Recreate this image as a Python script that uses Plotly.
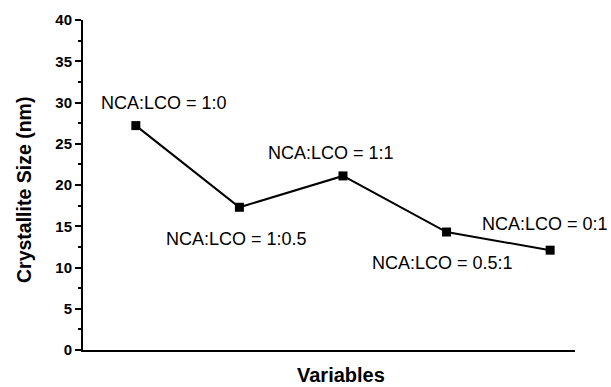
import plotly.graph_objects as go

positions = [1, 2, 3, 4, 5]
sizes = [27.2, 17.3, 21.1, 14.3, 12.1]
labels = ["NCA:LCO = 1:0", "NCA:LCO = 1:0.5", "NCA:LCO = 1:1", "NCA:LCO = 0.5:1", "NCA:LCO = 0:1"]
ytick_vals = [0, 5, 10, 15, 20, 25, 30, 35, 40]
ytick_text = ["0", "5", "10", "15", "20", "25", "30", "35", "40"]
yminor_vals = [2.5, 7.5, 12.5, 17.5, 22.5, 27.5, 32.5, 37.5]
# label offsets (in data units) relative to each point
label_dx = [0.27, -0.03, -0.12, -0.04, -0.05]
label_dy = [2.8, -3.8, 2.8, -3.7, 3.2]

fig = go.Figure()
fig.add_trace(go.Scatter(
    x=positions, y=sizes, mode="lines+markers",
    line=dict(color="black", width=2),
    marker=dict(symbol="square", size=9, color="black"),
    showlegend=False, cliponaxis=False,
))

for x, y, t, dx, dy in zip(positions, sizes, labels, label_dx, label_dy):
    fig.add_annotation(x=x + dx, y=y + dy, text=t, showarrow=False,
                       font=dict(family="Liberation Sans, Arial", size=18, color="black"))

fig.update_layout(
    width=611, height=387,
    margin=dict(l=83, r=36, t=20, b=37),
    plot_bgcolor="white", paper_bgcolor="white",
    font=dict(family="Liberation Sans, Arial", color="black"),
)
fig.update_xaxes(range=[0.49, 5.24], showticklabels=False, ticks="", showgrid=False,
                 zeroline=False, showline=True, linecolor="black", linewidth=2)
fig.update_yaxes(range=[0, 40], tickvals=ytick_vals,
                 ticktext=["<b>%s</b>" % t for t in ytick_text],
                 ticks="outside", ticklen=6, tickwidth=1.5, tickcolor="black",
                 minor=dict(tickvals=yminor_vals,
                            ticks="outside", ticklen=3, tickwidth=1.5, tickcolor="black"),
                 tickfont=dict(size=15, family="Liberation Sans, Arial"),
                 showgrid=False, zeroline=False, showline=True, linecolor="black", linewidth=2)

fig.add_annotation(xref="paper", yref="paper", x=0.5, y=0, xshift=12, yshift=-25,
                   text="<b>Variables</b>", showarrow=False, font=dict(size=20), yanchor="middle")
fig.add_annotation(xref="paper", yref="paper", x=0, y=0.5, xshift=-59, yshift=-5,
                   text="<b>Crystallite Size (nm)</b>", showarrow=False, font=dict(size=19.5),
                   textangle=-90, xanchor="center")

fig.write_html("out.html", config={"displayModeBar": False},
               post_script="document.body.style.margin='0';")
